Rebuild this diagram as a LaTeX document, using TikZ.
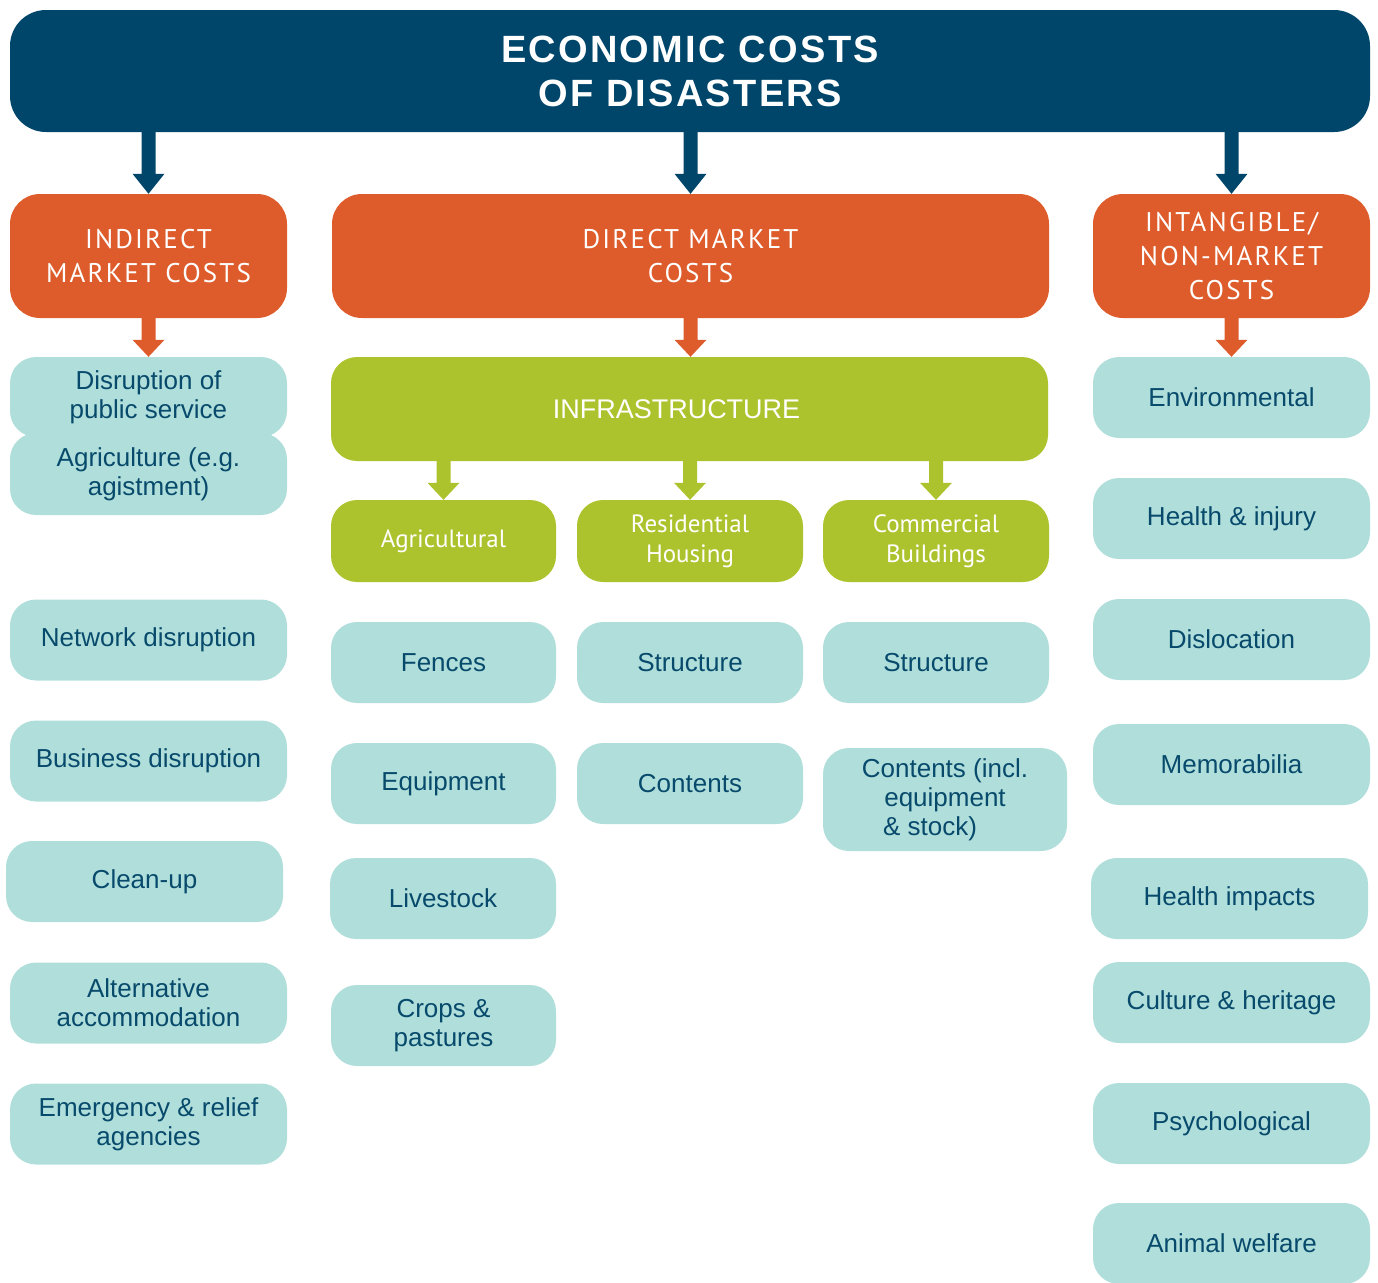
\documentclass[tikz,border=0pt]{standalone}
\usepackage{fontspec}
\setmainfont{Liberation Sans}
\newfontfamily\hdrfont[LetterSpace=8]{PT Sans}
\newfontfamily\subfont{PT Sans}
\newfontfamily\titlefont[LetterSpace=6]{Liberation Sans}
\usetikzlibrary{calc}
\definecolor{dblue}{HTML}{00466A}
\definecolor{orng}{HTML}{DE5C2C}
\definecolor{grn}{HTML}{ADC32D}
\definecolor{tealbox}{HTML}{B0DFDB}
\definecolor{tealtext}{HTML}{084A6C}
\newcommand\blockarr[4]{%
  \fill[#1] let \p1=(#2), \p2=(#3) in
    (\x1-7pt,\y1) -- (\x1-7pt,\y2+#4pt) -- (\x1-16pt,\y2+#4pt) -- (\x1,\y2)
    -- (\x1+16pt,\y2+#4pt) -- (\x1+7pt,\y2+#4pt) -- (\x1+7pt,\y1) -- cycle;}
\tikzset{
  base/.style={rounded corners=26pt, inner sep=0pt, align=center},
  tbox/.style={base, fill=tealbox, text=tealtext, font=\fontsize{26}{29}\selectfont,
    minimum width=277pt, minimum height=81pt},
  obox/.style={base, rounded corners=30pt, fill=orng, text=white,
    font=\hdrfont\fontsize{27}{34}\selectfont, minimum height=124pt},
  gbox/.style={base, fill=grn, text=white, font=\subfont\fontsize{25}{30}\selectfont,
    minimum width=226pt, minimum height=82pt},
  titlebox/.style={base, rounded corners=36pt, fill=dblue, text=white,
    font=\titlefont\bfseries\fontsize{38}{44}\selectfont,
    minimum width=1360pt, minimum height=122pt},
}
\begin{document}
\begin{tikzpicture}[x=1pt,y=-1pt]
\useasboundingbox (0,0) rectangle (1378,1282);
\clip (0,0) rectangle (1378,1282);
% title
\node[titlebox] (title) at (690,71) {ECONOMIC COSTS\\OF DISASTERS};
% orange headers
\node[obox, minimum width=277pt] (ind) at (148.5,256) {INDIRECT\\MARKET COSTS};
\node[obox, minimum width=717pt] (dir) at (690.5,256) {DIRECT MARKET\\COSTS};
\node[obox, minimum width=277pt] (int) at (1231.5,256) {INTANGIBLE/\\NON-MARKET\\COSTS};
% infrastructure
\node[base, fill=grn, text=white, font=\fontsize{27}{30}\selectfont,
  minimum width=717pt, minimum height=104pt] (infra) at (689.5,409) {\hspace*{-26pt}INFRASTRUCTURE};
% green subs
\node[gbox, minimum width=225pt] (agr) at (443.5,541) {Agricultural};
\node[gbox] (res) at (690,541) {Residential\\Housing};
\node[gbox] (com) at (936,541) {Commercial\\Buildings};
% left column
\node[tbox, minimum height=80pt] (disr) at (148.5,397) {Disruption of\\public service};
\node[tbox, minimum height=82pt] (agri) at (148.5,474) {Agriculture (e.g.\\agistment)};
\node[tbox] (net) at (148.5,640) {Network disruption};
\node[tbox] (bus) at (148.5,761) {Business disruption};
\node[tbox] (clean) at (144.5,881.5) {Clean-up};
\node[tbox] (alt) at (148.5,1003) {Alternative\\accommodation};
\node[tbox] (emer) at (148.5,1124) {Emergency \& relief\\agencies};
% middle columns
\node[tbox, minimum width=225pt] (fen) at (443.5,662.5) {Fences};
\node[tbox, minimum width=225pt] (equ) at (443.5,783.5) {Equipment};
\node[tbox, minimum width=226pt] (liv) at (443,898.5) {Livestock};
\node[tbox, minimum width=225pt] (crop) at (443.5,1025.5) {Crops \&\\pastures};
\node[tbox, minimum width=226pt] (str1) at (690,662.5) {Structure};
\node[tbox, minimum width=226pt] (con1) at (690,783.5) {Contents};
\node[tbox, minimum width=226pt] (str2) at (936,662.5) {Structure};
\node[tbox, minimum width=244pt, minimum height=103pt] (con2) at (945,799.5)
  {Contents (incl.\\equipment\\\& stock)\hspace*{30pt}};
% right column
\node[tbox] (env) at (1231.5,397.5) {Environmental};
\node[tbox] (hea) at (1231.5,518.5) {Health \& injury};
\node[tbox] (dis) at (1231.5,639.5) {Dislocation};
\node[tbox] (mem) at (1231.5,764.5) {Memorabilia};
\node[tbox] (himp) at (1229.5,898.5) {Health impacts};
\node[tbox] (cul) at (1231.5,1002.5) {Culture \& heritage};
\node[tbox] (psy) at (1231.5,1123.5) {Psychological};
\node[tbox] (ani) at (1231.5,1243.5) {Animal welfare};
% arrows
\blockarr{dblue}{title.south -| ind.north}{ind.north}{20}
\blockarr{dblue}{title.south -| dir.north}{dir.north}{20}
\blockarr{dblue}{title.south -| int.north}{int.north}{20}
\blockarr{orng}{ind.south}{disr.north}{17}
\blockarr{orng}{dir.south}{dir.south |- infra.north}{17}
\blockarr{orng}{int.south}{env.north}{17}
\blockarr{grn}{infra.south -| agr.north}{agr.north}{17}
\blockarr{grn}{infra.south -| res.north}{res.north}{17}
\blockarr{grn}{infra.south -| com.north}{com.north}{17}
\end{tikzpicture}
\end{document}
